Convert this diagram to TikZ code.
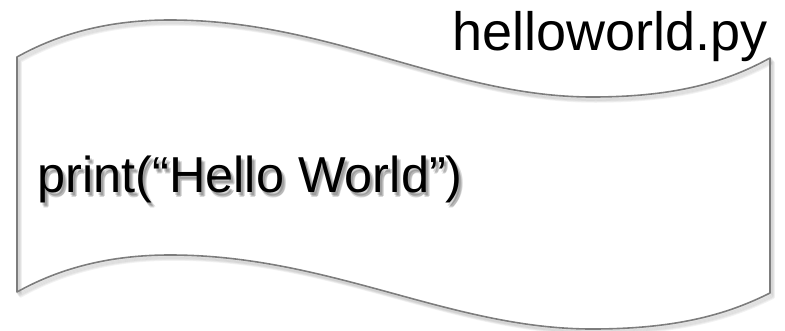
\documentclass[tikz,border=0pt]{standalone}
\usepackage{fontspec}
\setmainfont{Liberation Sans}
\usetikzlibrary{positioning}
\definecolor{tapeline}{RGB}{125, 125, 125}
\definecolor{shadegray}{RGB}{40, 40, 40}

% outline of the punched tape, coordinates in pixels
\newcommand{\tapeoutline}[1]{%
  \path[#1] (17,57) .. controls (60,33) and (110,20) .. (170,20)
    .. controls (330,20) and (450,97) .. (592,97)
    .. controls (680,97) and (730,80) .. (770,58)
    -- (770,293)
    .. controls (730,313) and (680,329) .. (592,329)
    .. controls (450,329) and (330,255) .. (170,255)
    .. controls (110,255) and (60,268) .. (17,292) -- cycle;}

\begin{document}
\begin{tikzpicture}[
    x=1pt, y=-1pt,
    tapeedge/.style={draw=tapeline, line width=1.6pt, line join=round},
    tapeshade/.style={draw=black, line width=2.5pt, opacity=0.05, line join=round},
    codetext/.style={font=\fontsize{50.5}{56}\selectfont, inner sep=0pt, anchor=base west},
    filetext/.style={font=\fontsize{54}{60}\selectfont, inner sep=0pt, anchor=base west},
    codeshade/.style={codetext, text=shadegray, opacity=0.18}
]
    \useasboundingbox (0,0) rectangle (785,330);

    % Soft shadow of the tape
    \foreach \s in {1,...,5}
        \tapeoutline{tapeshade, shift={(\s*0.7,\s*0.9)}};

    % Tape
    \tapeoutline{tapeedge};

    % Shadow of the code line
    \foreach \dx/\dy in {2/3, 4/4, 3/5}
        \node[codeshade] (shade\dx\dy) at (37+\dx,192+\dy) {print(“Hello World”)};

    % Code line
    \node[codetext] (code) at (37,192) {print(“Hello World”)};

    % File name
    \node[filetext] (file) at (452,50) {helloworld.py};
\end{tikzpicture}
\end{document}
